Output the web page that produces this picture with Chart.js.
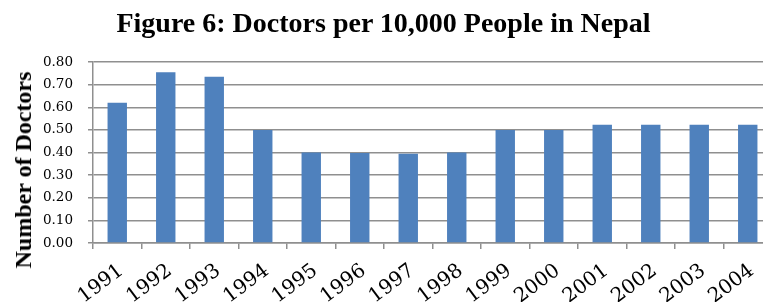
<!DOCTYPE html>
<html>
<head>
<meta charset="utf-8">
<script src="https://cdn.jsdelivr.net/npm/chart.js@4/dist/chart.umd.min.js"></script>
<style>
  html, body { margin: 0; padding: 0; background: #fff; overflow: hidden; width: 763px; height: 302px; }
  #wrap { position: relative; width: 763px; height: 302px; overflow: hidden; }
  #title { position: absolute; left: 0; top: 7px; width: 767px; text-align: center; line-height: 28px;
           font: bold 28px "Liberation Serif", "Times New Roman", serif; color: #000; white-space: nowrap; }
  #ytitle { position: absolute; left: 23px; top: 170px; transform: translate(-50%, -50%) rotate(-90deg);
            font: bold 24px "Liberation Serif", "Times New Roman", serif; line-height: 24px; color: #000; white-space: nowrap; }
  #cwrap { position: absolute; left: 0; top: 0; width: 800px; height: 302px; }
</style>
</head>
<body>
<div id="wrap">
  <div id="cwrap"><canvas id="c" width="800" height="302"></canvas></div>
  <div id="title"></div>
  <div id="ytitle"></div>
</div>
<script>
const chartTitle = "Figure 6: Doctors per 10,000 People in Nepal";
const yTitle = "Number of Doctors";
const years = ["1991","1992","1993","1994","1995","1996","1997","1998","1999","2000","2001","2002","2003","2004"];
const doctorsPer10k = [0.62, 0.755, 0.735, 0.50, 0.40, 0.398, 0.395, 0.40, 0.50, 0.50, 0.523, 0.523, 0.523, 0.523];
const yTicks = [0, 0.1, 0.2, 0.3, 0.4, 0.5, 0.6, 0.7, 0.8];

document.getElementById('title').textContent = chartTitle;
document.getElementById('ytitle').textContent = yTitle;

const gridColor = '#8f8f8f';

new Chart(document.getElementById('c'), {
  type: 'bar',
  data: {
    labels: years,
    datasets: [{
      data: doctorsPer10k,
      backgroundColor: '#4f81bd',
      borderWidth: 0,
      barPercentage: 0.4,
      categoryPercentage: 1.0
    }]
  },
  options: {
    responsive: false,
    animation: false,
    devicePixelRatio: 1,
    layout: { padding: { top: 62, right: 28, left: 0, bottom: 0 } },
    plugins: { legend: { display: false }, title: { display: false }, tooltip: { enabled: false } },
    scales: {
      x: {
        grid: { display: true, drawOnChartArea: false, drawTicks: true, tickLength: 6, color: gridColor, lineWidth: 1.5, offset: true },
        border: { display: true, color: gridColor, width: 1.5 },
        ticks: { color: '#000', font: { family: "'DejaVu Serif', serif", size: 20 }, minRotation: 37, maxRotation: 37, autoSkip: false, padding: 10, labelOffset: 4 },
        afterFit: (s) => { s.height = 59; }
      },
      y: {
        min: 0, max: 0.8,
        afterBuildTicks: (s) => { s.ticks = yTicks.map(v => ({ value: v })); },
        grid: { color: gridColor, lineWidth: 1.5, tickLength: 5 },
        border: { display: true, color: gridColor, width: 1.5 },
        ticks: { color: '#000', font: { family: "'DejaVu Serif', serif", size: 13.5 }, padding: 15, callback: (v) => Number(v).toFixed(2) },
        title: { display: false },
        afterFit: (s) => { s.width = 93; }
      }
    }
  }
});
</script>
</body>
</html>
